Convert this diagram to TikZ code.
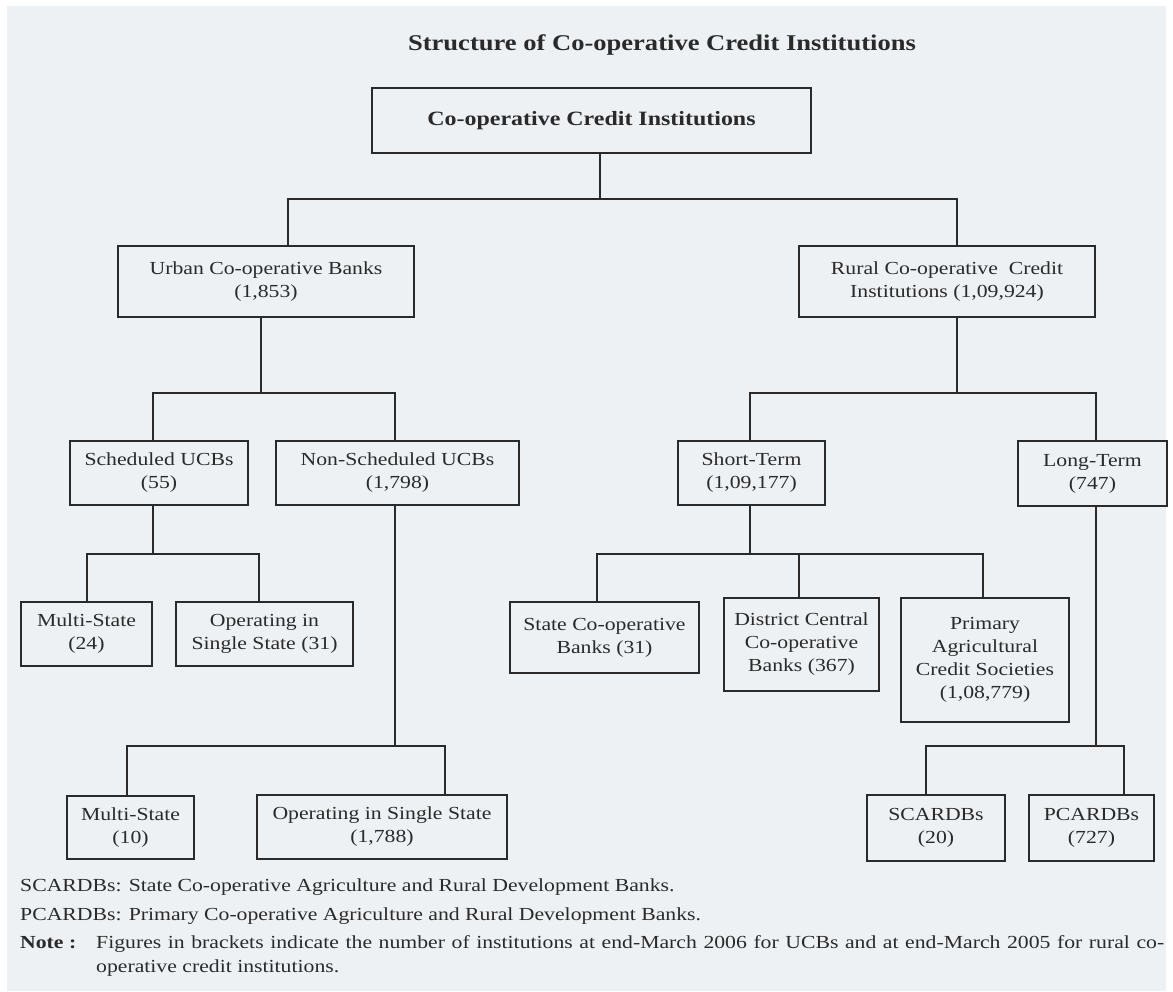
\documentclass[tikz,border=0pt]{standalone}
\usepackage{fontspec}
\setmainfont[FakeStretch=1.18]{Liberation Serif}
\definecolor{bgc}{HTML}{EDF1F4}
\definecolor{ink}{HTML}{2A2A2A}
\begin{document}
\begin{tikzpicture}[x=1pt,y=-1pt,
  box/.style={draw=ink,line width=1.6pt,fill=bgc,align=center,inner sep=2pt,text=ink,
    font=\fontsize{18.4}{23}\selectfont},
  wire/.style={draw=ink,line width=1.5pt},
  foot/.style={anchor=base west,inner sep=0pt,text=ink,font=\fontsize{18.4}{23}\selectfont}]
\useasboundingbox (0,0) rectangle (1173,991);
\fill[white] (0,0) rectangle (1173,991);
\fill[bgc] (7,6) rectangle (1166,991);

\node[text=ink,font=\fontsize{22.5}{27}\selectfont\bfseries] (title) at (662,45) {Structure of Co-operative Credit Institutions};

\node[box,minimum width=439pt,minimum height=65pt,font=\fontsize{20.3}{24}\selectfont\bfseries] (top) at (591.5,120.5) {Co-operative Credit Institutions};

\node[box,minimum width=296pt,minimum height=71pt] (urban) at (266,281.5) {Urban Co-operative Banks\\(1,853)};
\node[box,minimum width=296pt,minimum height=71pt] (rural) at (947,281.5) {Rural Co-operative\ \ Credit\\Institutions (1,09,924)};

\node[box,minimum width=178pt,minimum height=64pt] (sched) at (159,473) {Scheduled UCBs\\(55)};
\node[box,minimum width=243pt,minimum height=64pt] (nonsched) at (397.5,473) {Non-Scheduled UCBs\\(1,798)};
\node[box,minimum width=147pt,minimum height=64pt] (short) at (751.5,473) {Short-Term\\(1,09,177)};
\node[box,minimum width=149pt,minimum height=65pt] (long) at (1092.5,473.5) {Long-Term\\(747)};

\node[box,minimum width=131pt,minimum height=64pt] (ms24) at (86.5,634) {Multi-State\\(24)};
\node[box,minimum width=177pt,minimum height=64pt] (os31) at (264.5,634) {Operating in\\Single State (31)};
\node[box,minimum width=189pt,minimum height=71pt] (scb) at (604.5,637.5) {State Co-operative\\Banks (31)};
\node[box,minimum width=155pt,minimum height=93pt] (dccb) at (801.5,644.5) {District Central\\Co-operative\\Banks (367)};
\node[box,minimum width=168pt,minimum height=124pt] (pacs) at (985,660) {Primary\\Agricultural\\Credit Societies\\(1,08,779)};

\node[box,minimum width=127pt,minimum height=63pt] (ms10) at (130.5,827.5) {Multi-State\\(10)};
\node[box,minimum width=250pt,minimum height=64pt] (os1788) at (382,827) {Operating in Single State\\(1,788)};
\node[box,minimum width=138pt,minimum height=66pt] (scardb) at (936,828) {SCARDBs\\(20)};
\node[box,minimum width=125pt,minimum height=66pt] (pcardb) at (1091.5,828) {PCARDBs\\(727)};

% junction coordinates
\coordinate (t0) at (600,199);
\coordinate (tL) at (288,199);
\coordinate (tR) at (957,199);
\coordinate (u0) at (261,393);
\coordinate (uL) at (153,393);
\coordinate (uR) at (395,393);
\coordinate (r0) at (957,393);
\coordinate (rL) at (750,393);
\coordinate (rR) at (1096,393);
\coordinate (s0) at (153,554);
\coordinate (sL) at (87,554);
\coordinate (sR) at (259,554);
\coordinate (n0) at (395,746);
\coordinate (nL) at (127,746);
\coordinate (nR) at (445,746);
\coordinate (h0) at (750,554);
\coordinate (hL) at (597,554);
\coordinate (hM) at (799,554);
\coordinate (hR) at (983,554);
\coordinate (l0) at (1096,746);
\coordinate (lL) at (926,746);
\coordinate (lR) at (1124,746);

\draw[wire] (top.south -| t0) -- (t0);
\draw[wire] (urban.north -| tL) -- (tL) -- (tR) -- (rural.north -| tR);

\draw[wire] (urban.south -| u0) -- (u0);
\draw[wire] (sched.north -| uL) -- (uL) -- (uR) -- (nonsched.north -| uR);

\draw[wire] (rural.south -| r0) -- (r0);
\draw[wire] (short.north -| rL) -- (rL) -- (rR) -- (long.north -| rR);

\draw[wire] (sched.south -| s0) -- (s0);
\draw[wire] (ms24.north -| sL) -- (sL) -- (sR) -- (os31.north -| sR);

\draw[wire] (nonsched.south -| n0) -- (n0);
\draw[wire] (ms10.north -| nL) -- (nL) -- (nR) -- (os1788.north -| nR);

\draw[wire] (short.south -| h0) -- (h0);
\draw[wire] (scb.north -| hL) -- (hL) -- (hR) -- (pacs.north -| hR);
\draw[wire] (hM) -- (dccb.north -| hM);

\draw[wire] (long.south -| l0) -- (l0);
\draw[wire] (scardb.north -| lL) -- (lL) -- (lR) -- (pcardb.north -| lR);

\node[foot] (f1) at (20,891) {SCARDBs: State Co-operative Agriculture and Rural Development Banks.};
\node[foot] (f2) at (20,920) {PCARDBs: Primary Co-operative Agriculture and Rural Development Banks.};
\node[foot,font=\fontsize{18.4}{23}\selectfont\bfseries] (f3) at (20,948) {Note :};
\node[foot] (f4) at (96,948) {\makebox[1068pt][s]{Figures in brackets indicate the number of institutions at end-March 2006 for UCBs and at end-March 2005 for rural co-}};
\node[foot] (f5) at (96,972) {operative credit institutions.};
\end{tikzpicture}
\end{document}
